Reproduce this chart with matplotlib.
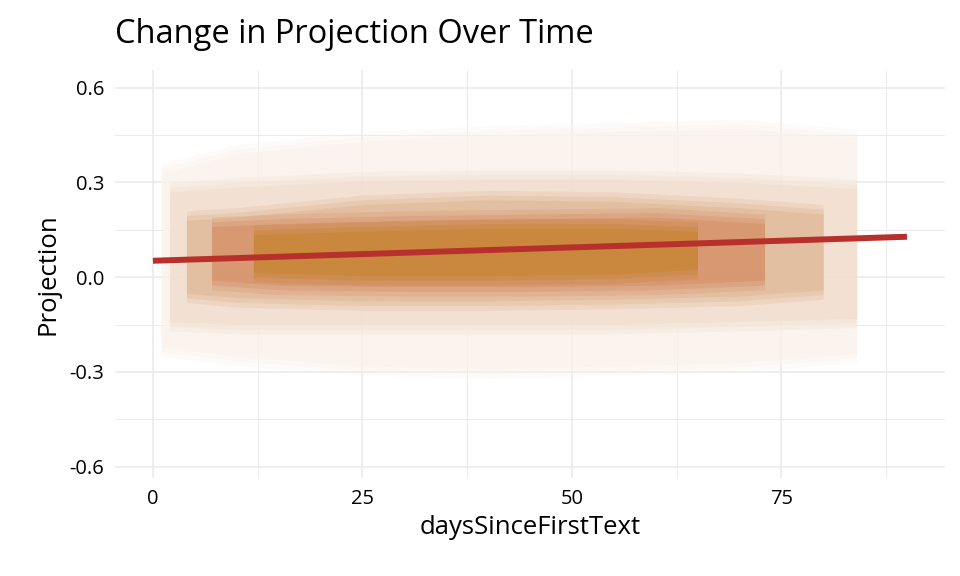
import matplotlib
matplotlib.use('Agg')
import matplotlib.pyplot as plt
import numpy as np
from matplotlib.ticker import FixedLocator

# fitted trend line
trend_x = [0, 90]
trend_y = [0.052, 0.128]

# spread of the individual trajectories, read as nested bands (outer -> core)
faint_x = [1, 10, 25, 40, 55, 70, 84]
faint_lo = [-0.22, -0.25, -0.28, -0.29, -0.28, -0.27, -0.24]
faint_hi = [0.33, 0.39, 0.43, 0.45, 0.46, 0.47, 0.44]

outer_x = [2, 10, 25, 40, 55, 70, 84]
outer_lo = [-0.14, -0.15, -0.15, -0.15, -0.15, -0.14, -0.13]
outer_hi = [0.27, 0.285, 0.305, 0.31, 0.31, 0.30, 0.28]

mid_x = [4, 10, 25, 40, 55, 70, 80]
mid_lo = [-0.05, -0.065, -0.075, -0.075, -0.07, -0.06, -0.04]
mid_hi = [0.18, 0.19, 0.23, 0.245, 0.24, 0.22, 0.20]

red_x = [7, 15, 30, 45, 60, 73]
red_lo = [-0.01, -0.025, -0.03, -0.03, -0.025, -0.01]
red_hi = [0.16, 0.17, 0.18, 0.185, 0.19, 0.17]

core_x = [12, 25, 40, 55, 65]
core_lo = [0.015, 0.005, 0.005, 0.01, 0.025]
core_hi = [0.135, 0.145, 0.155, 0.155, 0.145]

x_ticks = [0, 25, 50, 75]
y_ticks = [-0.6, -0.3, 0.0, 0.3, 0.6]
y_labels = ['-0.6', '-0.3', '0.0', '0.3', '0.6']

plt.rcParams['font.family'] = ['Open Sans', 'DejaVu Sans']

fig = plt.figure(figsize=(9.6, 5.76), dpi=100)
ax = fig.add_axes([0.12, 0.17, 0.864, 0.708])

bands = [
    (faint_x, faint_lo, faint_hi, '#FAF1EA'),
    (outer_x, outer_lo, outer_hi, '#F1DCCB'),
    (mid_x, mid_lo, mid_hi, '#DFB794'),
    (red_x, red_lo, red_hi, '#D48E66'),
    (core_x, core_lo, core_hi, '#C6842F'),
]
# soft edges: each band drawn a few times, slightly widened and lighter
for bx, lo, hi, col in bands:
    lo = np.array(lo)
    hi = np.array(hi)
    for pad, a in [(0.03, 0.25), (0.015, 0.35), (0.0, 0.55)]:
        ax.fill_between(bx, lo - pad, hi + pad, color=col, alpha=a,
                        linewidth=0, zorder=2)

ax.plot(trend_x, trend_y, color='#B8302C', linewidth=4.3, solid_capstyle='butt', zorder=3)

ax.set_xlim(-4.5, 94.5)
ax.set_ylim(-0.636, 0.655)
ax.xaxis.set_major_locator(FixedLocator(x_ticks))
ax.xaxis.set_minor_locator(FixedLocator([12.5, 37.5, 62.5, 87.5]))
ax.yaxis.set_major_locator(FixedLocator(y_ticks))
ax.yaxis.set_minor_locator(FixedLocator([-0.45, -0.15, 0.15, 0.45]))
ax.set_yticklabels(y_labels)

ax.grid(which='major', color='#EBEBEB', linewidth=1.2, zorder=0)
ax.grid(which='minor', color='#EBEBEB', linewidth=0.7, zorder=0)
ax.set_axisbelow(True)
for s in ax.spines.values():
    s.set_visible(False)
ax.tick_params(which='both', length=0, labelsize=14.5, labelcolor='black', pad=8)

ax.set_xlabel('daysSinceFirstText', fontsize=18.5, labelpad=4)
ax.set_ylabel('Projection', fontsize=18.5, labelpad=6)
fig.text(0.12, 0.94, 'Change in Projection Over Time', fontsize=23.5, ha='left', va='center')

fig.savefig('out.png', dpi=100)
